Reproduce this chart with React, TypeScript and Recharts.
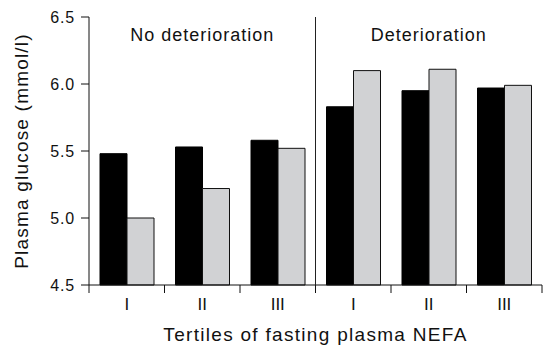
import React from "react";
import { BarChart, Bar, XAxis, YAxis, ReferenceLine, Label } from "recharts";

// tertile categories, two panels of three
const tertiles = ["I", "II", "III", "I", "II", "III"];
const categoryIds = ["nd-I", "nd-II", "nd-III", "d-I", "d-II", "d-III"];
const blackValues = [5.48, 5.53, 5.58, 5.83, 5.95, 5.97];
const greyValues = [5.0, 5.22, 5.52, 6.1, 6.11, 5.99];
const yTicks = [4.5, 5.0, 5.5, 6.0, 6.5];
const panelLabels = ["No deterioration", "Deterioration"];

const data = categoryIds.map((id, i) => ({
  id,
  tertile: tertiles[i],
  black: blackValues[i],
  grey: greyValues[i],
}));

const PLOT_HEIGHT = 268;
const FONT = "'Liberation Sans', Arial, sans-serif";

const TertileTick = (props: any) => {
  const { x, y, payload, index } = props;
  const half = payload && payload.offset ? payload.offset : 37.75;
  const left = x - half;
  const right = x + half;
  return (
    <g>
      <line x1={left} y1={y} x2={left} y2={y + 8} stroke="#111" strokeWidth={1} />
      {index === tertiles.length - 1 && (
        <line x1={right} y1={y} x2={right} y2={y + 8} stroke="#111" strokeWidth={1} />
      )}
      {index === 3 && (
        <line x1={left} y1={y} x2={left} y2={y - PLOT_HEIGHT} stroke="#222" strokeWidth={1} />
      )}
      <text x={x} y={y + 25} textAnchor="middle" fontSize={17} fill="#111" fontFamily={FONT}>
        {tertiles[index]}
      </text>
    </g>
  );
};

export default function App() {
  return (
    <div style={{ position: "absolute", left: 0, top: 0, fontFamily: FONT }}>
      <BarChart
        width={543}
        height={345}
        data={data}
        margin={{ top: 17, right: 1, left: 0, bottom: 0 }}
        barCategoryGap={11}
        barGap={0}
      >
        <XAxis
          dataKey="id"
          height={60}
          stroke="#111"
          tickLine={false}
          tickSize={0}
          tickMargin={0}
          tick={<TertileTick />}
          interval={0}
        >
          <Label
            value="Tertiles of fasting plasma NEFA"
            position="insideBottom"
            offset={4}
            style={{ fontSize: 19, letterSpacing: 1.3, fill: "#111", fontFamily: FONT }}
          />
        </XAxis>
        <YAxis
          width={89}
          domain={[4.5, 6.5]}
          ticks={yTicks}
          tickFormatter={(v: number) => v.toFixed(1)}
          stroke="#111"
          tickSize={8}
          tickMargin={6}
          tick={{ fontSize: 16, letterSpacing: 0.8, fill: "#111", fontFamily: FONT }}
        >
          <Label
            value="Plasma glucose (mmol/l)"
            angle={-90}
            position="insideLeft"
            offset={21}
            style={{ textAnchor: "middle", fontSize: 19, letterSpacing: 1.2, fill: "#111", fontFamily: FONT }}
          />
        </YAxis>
        <ReferenceLine x="nd-II" stroke="none" strokeOpacity={0}>
          <Label
            value={panelLabels[0]}
            position="insideTop"
            offset={11}
            style={{ fontSize: 18, letterSpacing: 1, fill: "#111", fontFamily: FONT }}
          />
        </ReferenceLine>
        <ReferenceLine x="d-II" stroke="none" strokeOpacity={0}>
          <Label
            value={panelLabels[1]}
            position="insideTop"
            offset={11}
            style={{ fontSize: 18, letterSpacing: 1, fill: "#111", fontFamily: FONT }}
          />
        </ReferenceLine>
        <Bar dataKey="black" fill="#000" stroke="#000" strokeWidth={1} isAnimationActive={false} />
        <Bar dataKey="grey" fill="#d1d2d4" stroke="#111" strokeWidth={1} isAnimationActive={false} />
      </BarChart>
    </div>
  );
}
